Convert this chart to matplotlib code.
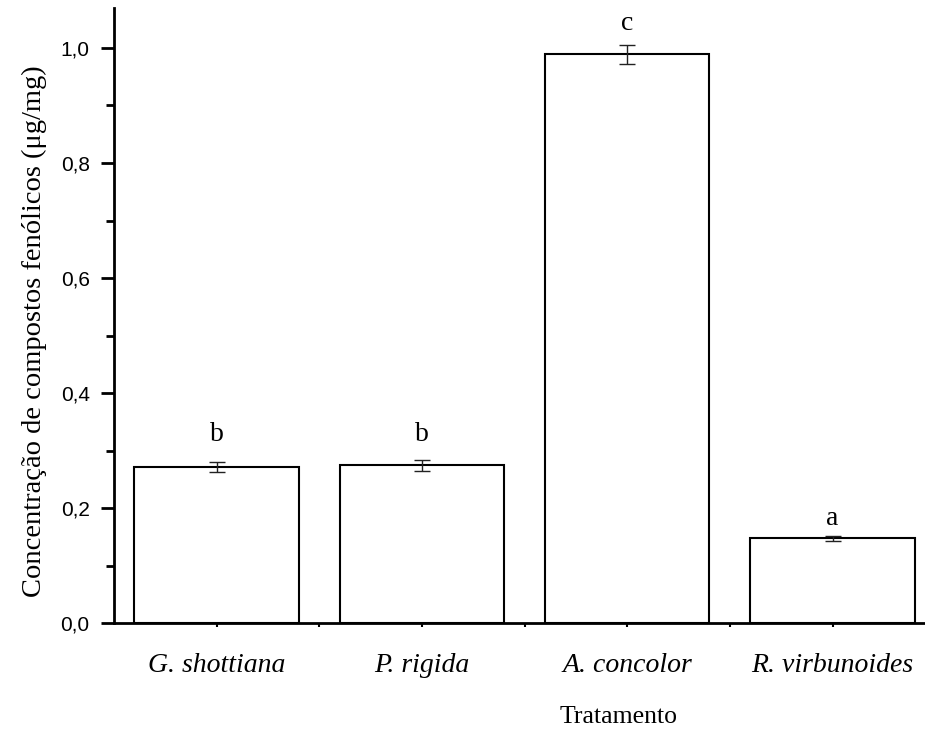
import matplotlib
matplotlib.use('Agg')
import matplotlib.pyplot as plt
from matplotlib.ticker import MultipleLocator, FixedLocator

especies = ['G. shottiana', 'P. rigida', 'A. concolor', 'R. virbunoides']
media = [0.271, 0.274, 0.989, 0.147]
erro = [0.009, 0.010, 0.017, 0.004]
letras = ['b', 'b', 'c', 'a']
pos_letra = [0.317, 0.317, 1.031, 0.170]

x = [1, 2, 3, 4]

fig = plt.figure(figsize=(9.25, 7.32), dpi=100)
ax = fig.add_axes([0.1232, 0.1489, 0.8768, 0.8402])

ax.bar(x, media, width=0.8, color='white', edgecolor='black', linewidth=1.5, zorder=2)
ax.errorbar(x, media, yerr=erro, fmt='none', ecolor='#222222', elinewidth=1,
            capsize=6, capthick=1, zorder=3)

for xi, yi, t in zip(x, pos_letra, letras):
    ax.text(xi, yi, t, ha='center', va='baseline', fontsize=20,
            family='Liberation Serif')

ax.set_xlim(0.5, 4.45)
ax.set_ylim(0, 1.0696)

for s in ['top', 'right']:
    ax.spines[s].set_visible(False)
for s in ['left', 'bottom']:
    ax.spines[s].set_linewidth(2)

ax.yaxis.set_major_locator(MultipleLocator(0.2))
ax.yaxis.set_minor_locator(MultipleLocator(0.1))
ax.set_yticklabels([f'{v:.1f}'.replace('.', ',') for v in ax.get_yticks()],
                   family='Liberation Sans', fontsize=15)
ax.tick_params(axis='y', which='major', length=9.5, width=2, pad=8)
ax.tick_params(axis='y', which='minor', length=5.5, width=2)

ax.set_xticks(x)
ax.set_xticklabels(especies, family='Liberation Serif', style='italic', fontsize=20)
ax.xaxis.set_minor_locator(FixedLocator([1.5, 2.5, 3.5]))
ax.tick_params(axis='x', which='both', length=3, width=1.5, pad=18.5)

ax.set_ylabel('Concentração de compostos fenólicos (μg/mg)', family='Liberation Serif',
              fontsize=20.5)
ax.yaxis.set_label_coords(-0.083, 0.475)

# rótulo do eixo x
fig.text(619 / 925, 9 / 732, 'Tratamento', ha='center', va='baseline',
         family='Liberation Serif', fontsize=18.5)

fig.savefig('out.png', dpi=100)
